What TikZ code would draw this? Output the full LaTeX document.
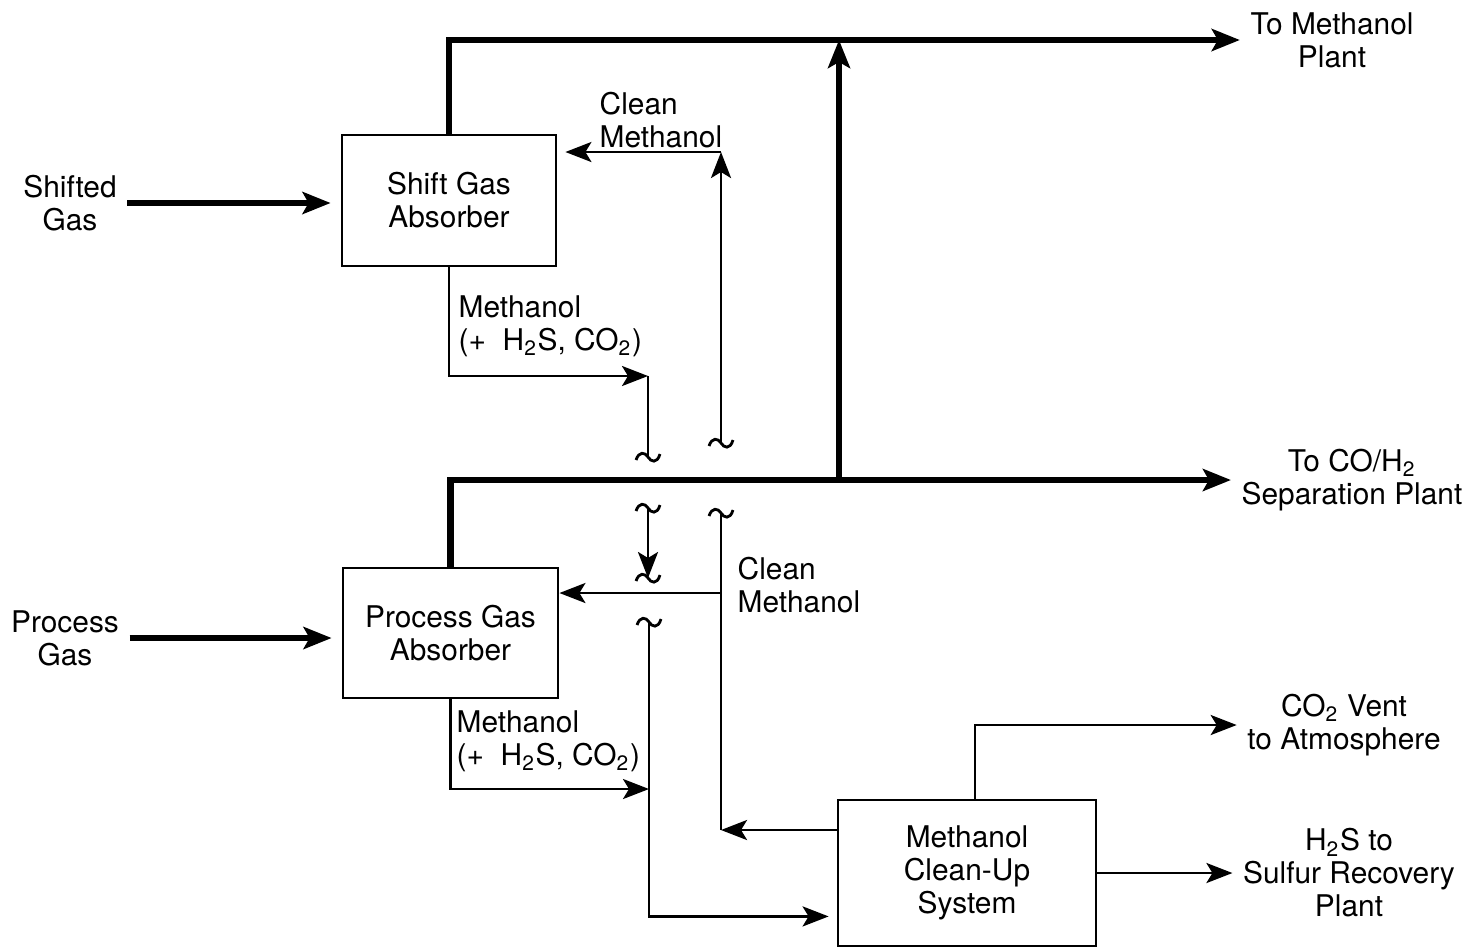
\documentclass[tikz,border=0pt]{standalone}
\usepackage{fontspec}
\setmainfont{TeX Gyre Heros}
\usetikzlibrary{arrows.meta, positioning}

\begin{document}
\begin{tikzpicture}[font=\fontsize{8.5}{9.4}\selectfont]
% Page size with its margins
\useasboundingbox (0,0) rectangle (14.7,-9.49);
% How to define the styles
\tikzstyle{unit_box} = [rectangle, draw=black, line width=0.8pt, text centered, align=center, inner sep=0pt]
\tikzstyle{txt} = [align=center, inner sep=1mm]
\tikzstyle{side_txt} = [align=left, inner sep=0pt, anchor=west]
\tikzstyle{line} = [line width=0.8pt]
\tikzstyle{arrow} = [line width=0.8pt, -{Stealth[length=2.6mm, width=2mm, inset=0.6mm]}]
\tikzstyle{thick_arrow} = [line width=1.8pt, -{Stealth[length=2.8mm, width=2.2mm, inset=0.6mm]}]
\tikzset{brk/.pic={\draw[line] (-0.12,-0.03) .. controls (-0.09,0.06) and (-0.03,0.05) .. (0,0) .. controls (0.03,-0.05) and (0.09,-0.07) .. (0.12,0.03);}}
% Start initiating nodes
\node (shift) [unit_box, minimum width=2.14cm, minimum height=1.31cm] at (4.49,-2.005) {Shift Gas\\Absorber};
\node (process) [unit_box, minimum width=2.15cm, minimum height=1.30cm] at (4.505,-6.33) {Process Gas\\Absorber};
\node (cleanup) [unit_box, minimum width=2.58cm, minimum height=1.46cm] at (9.67,-8.73) {Methanol\\Clean-Up\\System};

\node (shifted) [txt] at (0.70,-2.03) {Shifted\\Gas};
\node (procgas) [txt] at (0.65,-6.38) {Process\\Gas};
\node (mplant) [txt] at (13.32,-0.40) {To Methanol\\Plant};
\node (cosep) [txt] at (13.52,-4.80) {To CO/H\textsubscript{2}\\Separation Plant};
\node (co2) [txt] at (13.44,-7.25) {CO\textsubscript{2} Vent\\to Atmosphere};
\node (h2s) [txt] at (13.49,-8.73) {H\textsubscript{2}S to\\Sulfur Recovery\\Plant};

\node (cm_top) [side_txt] at (5.99,-1.20) {Clean\\Methanol};
\node (mix_top) [side_txt] at (4.58,-3.26) {Methanol\\(+\ \ H\textsubscript{2}S, CO\textsubscript{2})};
\node (cm_mid) [side_txt] at (7.37,-5.85) {Clean\\Methanol};
\node (mix_low) [side_txt] at (4.56,-7.41) {Methanol\\(+\ \ H\textsubscript{2}S, CO\textsubscript{2})};

% Corners and line breaks
\coordinate (brk_a) at (6.48,-4.57);
\coordinate (brk_b) at (7.21,-4.43);
\coordinate (brk_c) at (6.48,-5.08);
\coordinate (brk_d) at (6.48,-5.78);
\coordinate (brk_e) at (7.21,-5.13);
\coordinate (brk_f) at (6.49,-6.22);
\coordinate (mix_top_end) at (6.48,-3.76);
\coordinate (mix_low_end) at (6.49,-7.89);
\coordinate (cm_mid_end) at (7.21,-8.30);
\coordinate (cm_split) at (7.21,-5.93);
\coordinate (cm_top_end) at (7.21,-1.52);
\coordinate (tee) at (8.39,-4.78);

% Draw arrows for gas
\draw [thick_arrow, shorten >=1mm] (shifted.east) -- (shifted.east -| shift.west);
\draw [thick_arrow, shorten >=1mm] (procgas.east) -- (procgas.east -| process.west);
\draw [thick_arrow] (shift.north) |- (mplant.west);
\draw [thick_arrow] (process.north) |- (cosep.west);
\draw [thick_arrow] (tee) -- (tee |- mplant.west);

% Draw arrows for methanol
\draw [arrow] (shift.south) |- (mix_top_end);
\draw [line] (mix_top_end) -- (brk_a);
\draw [arrow] (brk_c) -- (brk_d);
\draw [arrow, shorten >=0.8mm] (brk_f) |- ([yshift=0.31cm]cleanup.south west);
\draw [arrow] (process.south) |- (mix_low_end);

\draw [arrow] (cleanup.west |- cm_mid_end) -- (cm_mid_end);
\draw [line] (cm_mid_end) -- (brk_e);
\draw [arrow] (cm_split) -- (cm_split -| process.east);
\draw [arrow] (brk_b) -- (cm_top_end);
\draw [arrow, shorten >=0.8mm] (cm_top_end) -- (cm_top_end -| shift.east);

\draw [arrow] ([xshift=0.08cm]cleanup.north) |- (co2.west);
\draw [arrow] (cleanup) -- (h2s);

% Line breaks
\foreach \b in {brk_a, brk_b, brk_c, brk_d, brk_e, brk_f}
  \path (\b) pic {brk};
\end{tikzpicture}
\end{document}
